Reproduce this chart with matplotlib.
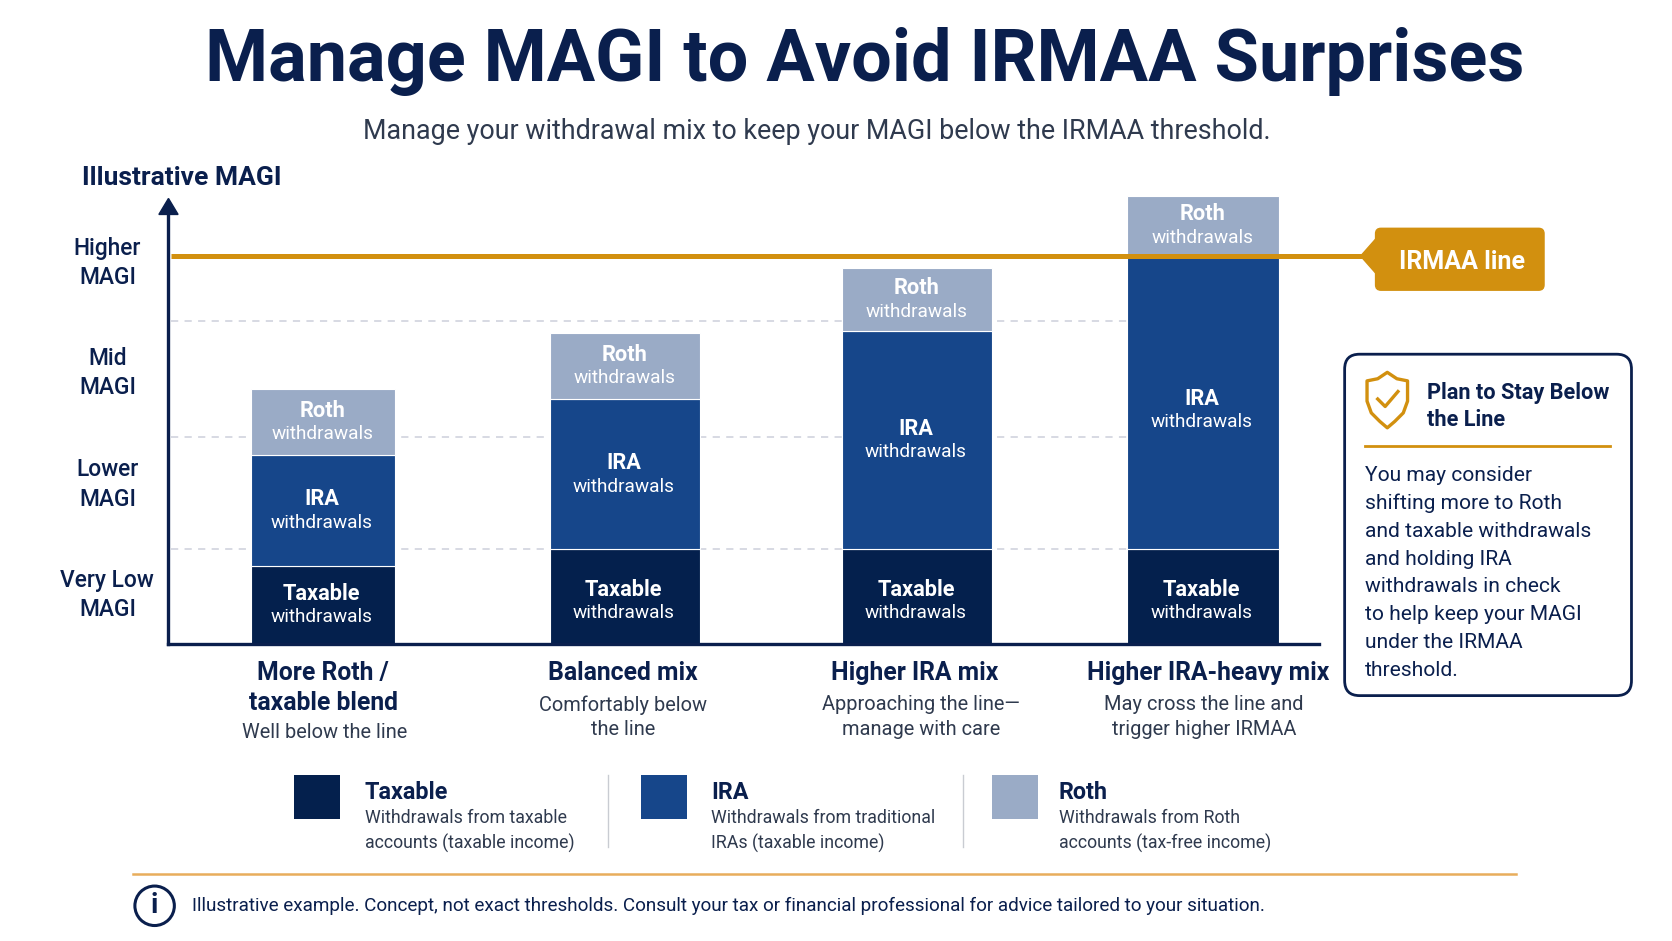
# plot.py - Manage MAGI to avoid IRMAA surprises
import matplotlib
matplotlib.use('Agg')
import matplotlib.pyplot as plt
from matplotlib.patches import FancyBboxPatch, Polygon, Circle, Rectangle

plt.rcParams['font.family'] = ['Roboto', 'DejaVu Sans']

NAVY = '#0a1f4d'
GOLD = '#d2900f'
TAX_C = '#04204d'
IRA_C = '#16468a'
ROTH_C = '#9aabc6'
GRAY = '#2f3a4e'

# --- data (illustrative units, IRMAA line = 100) ---
mixes = ['More Roth /\ntaxable blend', 'Balanced mix', 'Higher IRA mix', 'Higher IRA-heavy mix']
mix_notes = ['Well below the line', 'Comfortably below\nthe line',
             'Approaching the line—\nmanage with care', 'May cross the line and\ntrigger higher IRMAA']
taxable = [20.3, 24.5, 24.5, 24.5]
ira = [28.6, 38.7, 56.3, 75.8]
roth = [16.8, 17.0, 16.0, 15.1]
band_edges = [24.5, 53.3, 83.2]
irmaa = 100
band_labels = ['Very Low\nMAGI', 'Lower\nMAGI', 'Mid\nMAGI', 'Higher\nMAGI']
band_label_pos = [14.1, 42.6, 71.3, 99.7]

legend_names = ['Taxable', 'IRA', 'Roth']
legend_notes = ['Withdrawals from taxable\naccounts (taxable income)',
                'Withdrawals from traditional\nIRAs (taxable income)',
                'Withdrawals from Roth\naccounts (tax-free income)']
plan_lines = ['You may consider', 'shifting more to Roth', 'and taxable withdrawals',
              'and holding IRA', 'withdrawals in check', 'to help keep your MAGI',
              'under the IRMAA', 'threshold.']

# layout, in a 1568 x 882 grid
bar_x = [302.5, 586, 860, 1128]
bar_w = [135, 141, 140, 143]
label_x = [303, 584, 858, 1133]
note_x = [304, 584, 864, 1129]
W, H = 1568, 882

fig = plt.figure(figsize=(16.72, 9.41), dpi=100, facecolor='white')

# page layer for everything around the plot
page = fig.add_axes([0, 0, 1, 1])
page.set_xlim(0, W)
page.set_ylim(H, 0)
page.axis('off')

# --- plot area ---
ax = fig.add_axes([158 / W, 1 - 604 / H, (1237 - 158) / W, (604 - 195) / H])
ax.set_xlim(158, 1237)
ax.set_ylim(0, 409 / 3.64)
ax.patch.set_alpha(0)
for s in ['top', 'right']:
    ax.spines[s].set_visible(False)
for s in ['left', 'bottom']:
    ax.spines[s].set_color(NAVY)
    ax.spines[s].set_linewidth(2.4)
ax.set_xticks([])
ax.set_yticks(band_label_pos)
ax.set_yticklabels(band_labels, fontsize=16.4, color=NAVY, ha='center', linespacing=1.35, fontweight='medium')
ax.tick_params(axis='y', length=0, pad=44)

for e in band_edges:
    ax.plot([160, bar_x[3] - bar_w[3] / 2], [e, e], color='#d4d7e0', lw=1.3, ls=(0, (4, 3.5)), zorder=1)

ax.bar(bar_x, taxable, bar_w, color=TAX_C, edgecolor='white', linewidth=0.8, zorder=2)
bottom2 = [t for t in taxable]
ax.bar(bar_x, ira, bar_w, bottom=bottom2, color=IRA_C, edgecolor='white', linewidth=0.8, zorder=2)
bottom3 = [t + i for t, i in zip(taxable, ira)]
bars = ax.bar(bar_x, roth, bar_w, bottom=bottom3, color=ROTH_C, edgecolor='white',
              linewidth=0.8, zorder=2, clip_on=False)

ax.plot([160, 1282], [irmaa, irmaa], color=GOLD, lw=3.6, zorder=3, solid_capstyle='butt', clip_on=False)


def seg_label(x, y, name, nudge=0):
    ax.annotate(name, (x, y), xytext=(0, 8.5 + nudge), textcoords='offset points', ha='center', va='center',
                color='white', fontsize=15.7, fontweight='bold', zorder=4, annotation_clip=False)
    ax.annotate('withdrawals', (x, y), xytext=(0, -8.5 + nudge), textcoords='offset points', ha='center',
                va='center', color='white', fontsize=13.7, zorder=4, annotation_clip=False)


for i, x in enumerate(bar_x):
    seg_label(x - 1, taxable[i] / 2, 'Taxable', -3.5 if i else -0.5)
    seg_label(x - 1, taxable[i] + ira[i] / 2, 'IRA', -6 if i == 3 else -0.5)
    seg_label(x, bottom3[i] + roth[i] / 2, 'Roth', -0.5)

# y axis arrow and title
page.add_patch(Polygon([[158, 186], [149, 201], [167, 201]], color=NAVY))
page.text(170, 167, 'Illustrative MAGI', fontsize=19, fontweight='bold', color=NAVY, ha='center', va='center')

# title
page.text(811, 58, 'Manage MAGI to Avoid IRMAA Surprises', fontsize=51.8, fontweight='bold', color=NAVY,
          ha='center', va='center')
page.text(766, 123, 'Manage your withdrawal mix to keep your MAGI below the IRMAA threshold.', fontsize=19.4,
          color=GRAY, ha='center', va='center')

# category labels
for x, nx, name, note in zip(label_x, note_x, mixes, mix_notes):
    page.text(x, 620, name, fontsize=17.8, fontweight='bold', color=NAVY, ha='center', va='top', linespacing=1.3)
    y = 687 if '\n' in name else 672
    page.text(nx, y, note, fontsize=14.4, color=GRAY, ha='center', va='center', linespacing=1.35)

# IRMAA callout
page.add_patch(Polygon([[1276, 240], [1291, 223], [1291, 257]], color=GOLD))
page.add_patch(FancyBboxPatch((1290 + 5, 214 + 5), 158 - 10, 58 - 10, boxstyle='round,pad=5', color=GOLD))
page.text(1371, 246, 'IRMAA line', fontsize=18, fontweight='bold', color='white', ha='center', va='center')

# plan card
page.add_patch(FancyBboxPatch((1261 + 14, 332 + 14), 269 - 28, 320 - 28, boxstyle='round,pad=14',
                              fc='white', ec=NAVY, lw=2))
shield = [[1301, 349], [1310, 355], [1320, 357], [1320, 376], [1316, 387], [1308, 395], [1301, 401],
          [1294, 395], [1286, 387], [1282, 376], [1282, 357], [1292, 355]]
page.add_patch(Polygon(shield, closed=True, fc='none', ec=GOLD, lw=2.4, joinstyle='round'))
page.plot([1292, 1299, 1311], [374, 381, 367], color=GOLD, lw=2.4)
page.text(1338, 381, 'Plan to Stay Below\nthe Line', fontsize=15.7, fontweight='bold', color=NAVY,
          ha='left', va='center', linespacing=1.3)
page.plot([1280, 1510], [418, 418], color=GOLD, lw=2)
for k, line in enumerate(plan_lines):
    page.text(1280, 446 + k * 26, line, fontsize=15.1, color=NAVY, ha='left', va='center')

# legend
swatch_x = [276, 601, 930]
text_x = [342, 667, 993]
for c, sx, tx, name, note in zip([TAX_C, IRA_C, ROTH_C], swatch_x, text_x, legend_names, legend_notes):
    page.add_patch(Rectangle((sx, 726), 43, 42, fc=c, ec='none'))
    page.text(tx, 743, name, fontsize=16.8, fontweight='bold', color=NAVY, ha='left', va='center')
    page.text(tx, 779, note, fontsize=12.8, color=GRAY, ha='left', va='center', linespacing=1.42)
for x in [570, 903]:
    page.plot([x, x], [726, 794], color='#c9ccd2', lw=1)

# footer
page.plot([125, 1422], [819, 819], color='#e8ad5c', lw=1.8)
page.add_patch(Circle((145, 849), 18.5, fc='none', ec=NAVY, lw=2.2))
page.text(145, 849, 'i', fontsize=20, fontweight='bold', color=NAVY, ha='center', va='center')
page.text(180, 849, 'Illustrative example. Concept, not exact thresholds. Consult your tax or financial '
          'professional for advice tailored to your situation.', fontsize=13.6, color=NAVY, ha='left', va='center')

fig.savefig('out.png', dpi=100)
